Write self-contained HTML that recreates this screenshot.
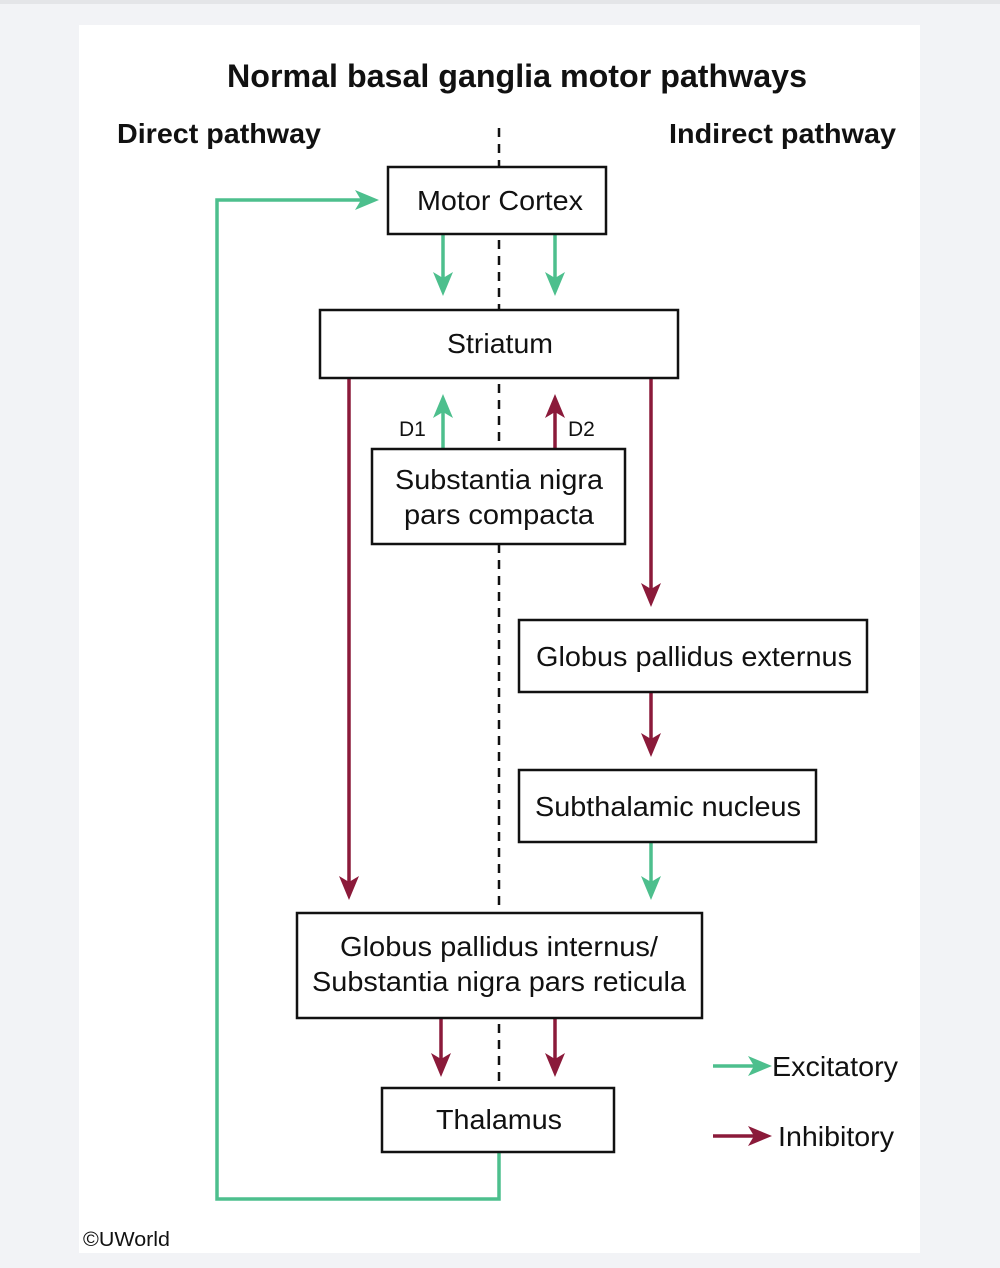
<!DOCTYPE html>
<html><head><meta charset="utf-8"><style>
html,body{margin:0;padding:0;background:#f2f3f6;}
svg{display:block;}
text{font-family:"Liberation Sans",Arial,sans-serif;fill:#111;}
</style></head><body>
<svg width="1000" height="1268" viewBox="0 0 1000 1268" xmlns="http://www.w3.org/2000/svg">
<rect x="0" y="0" width="1000" height="4" fill="#e4e5e8"/>
<rect x="79" y="25" width="841" height="1228" fill="#fff"/>
<text x="517" y="87" font-size="32" font-weight="bold" text-anchor="middle" textLength="580" lengthAdjust="spacingAndGlyphs">Normal basal ganglia motor pathways</text>
<text x="117" y="143" font-size="28" font-weight="bold" textLength="204" lengthAdjust="spacingAndGlyphs">Direct pathway</text>
<text x="669" y="143" font-size="28" font-weight="bold" textLength="227" lengthAdjust="spacingAndGlyphs">Indirect pathway</text>
<line x1="499" y1="128" x2="499" y2="1090" stroke="#111" stroke-width="2.5" stroke-dasharray="9,7"/>
<g fill="none" stroke-width="3.5">
<polyline points="499,1152 499,1199 217,1199 217,200 366,200" stroke="#4dbf8d"/>
<line x1="443" y1="234" x2="443" y2="280" stroke="#4dbf8d"/>
<line x1="555" y1="234" x2="555" y2="280" stroke="#4dbf8d"/>
<line x1="349" y1="378" x2="349" y2="882" stroke="#8b1a3a"/>
<line x1="651" y1="378" x2="651" y2="590" stroke="#8b1a3a"/>
<line x1="443" y1="449" x2="443" y2="410" stroke="#4dbf8d"/>
<line x1="555" y1="449" x2="555" y2="410" stroke="#8b1a3a"/>
<line x1="651" y1="692" x2="651" y2="740" stroke="#8b1a3a"/>
<line x1="651" y1="842" x2="651" y2="884" stroke="#4dbf8d"/>
<line x1="441" y1="1018" x2="441" y2="1060" stroke="#8b1a3a"/>
<line x1="555" y1="1018" x2="555" y2="1060" stroke="#8b1a3a"/>
<line x1="713" y1="1066" x2="755" y2="1066" stroke="#4dbf8d"/>
<line x1="713" y1="1136" x2="755" y2="1136" stroke="#8b1a3a"/>
</g>
<g>
<path d="M355,190 L379,200 L355,210 L361,200Z" fill="#4dbf8d"/>
<path d="M433,272 L443,296 L453,272 L443,278Z" fill="#4dbf8d"/>
<path d="M545,272 L555,296 L565,272 L555,278Z" fill="#4dbf8d"/>
<path d="M339,876 L349,900 L359,876 L349,882Z" fill="#8b1a3a"/>
<path d="M641,583 L651,607 L661,583 L651,589Z" fill="#8b1a3a"/>
<path d="M433,418 L443,394 L453,418 L443,412Z" fill="#4dbf8d"/>
<path d="M545,418 L555,394 L565,418 L555,412Z" fill="#8b1a3a"/>
<path d="M641,733 L651,757 L661,733 L651,739Z" fill="#8b1a3a"/>
<path d="M641,876 L651,900 L661,876 L651,882Z" fill="#4dbf8d"/>
<path d="M431,1053 L441,1077 L451,1053 L441,1059Z" fill="#8b1a3a"/>
<path d="M545,1053 L555,1077 L565,1053 L555,1059Z" fill="#8b1a3a"/>
<path d="M748,1056 L772,1066 L748,1076 L754,1066Z" fill="#4dbf8d"/>
<path d="M748,1126 L772,1136 L748,1146 L754,1136Z" fill="#8b1a3a"/>
</g>
<g fill="#fff" stroke="#111" stroke-width="2.5">
<rect x="388" y="167" width="218" height="67"/>
<rect x="320" y="310" width="358" height="68"/>
<rect x="372" y="449" width="253" height="95"/>
<rect x="519" y="620" width="348" height="72"/>
<rect x="519" y="770" width="297" height="72"/>
<rect x="297" y="913" width="405" height="105"/>
<rect x="382" y="1088" width="232" height="64"/>
</g>
<g font-size="28" text-anchor="middle">
<text x="500" y="210" textLength="166" lengthAdjust="spacingAndGlyphs">Motor Cortex</text>
<text x="500" y="353" textLength="106" lengthAdjust="spacingAndGlyphs">Striatum</text>
<text x="499" y="489" textLength="208" lengthAdjust="spacingAndGlyphs">Substantia nigra</text>
<text x="499" y="524" textLength="190" lengthAdjust="spacingAndGlyphs">pars compacta</text>
<text x="694" y="666" textLength="316" lengthAdjust="spacingAndGlyphs">Globus pallidus externus</text>
<text x="668" y="816" textLength="266" lengthAdjust="spacingAndGlyphs">Subthalamic nucleus</text>
<text x="499" y="956" textLength="318" lengthAdjust="spacingAndGlyphs">Globus pallidus internus/</text>
<text x="499" y="991" textLength="374" lengthAdjust="spacingAndGlyphs">Substantia nigra pars reticula</text>
<text x="499" y="1129" textLength="126" lengthAdjust="spacingAndGlyphs">Thalamus</text>
</g>
<text x="399" y="436" font-size="21">D1</text>
<text x="568" y="436" font-size="21">D2</text>
<text x="772" y="1076" font-size="28" textLength="126" lengthAdjust="spacingAndGlyphs">Excitatory</text>
<text x="778" y="1146" font-size="28" textLength="116" lengthAdjust="spacingAndGlyphs">Inhibitory</text>
<text x="83" y="1246" font-size="20" textLength="87" lengthAdjust="spacingAndGlyphs">©UWorld</text>
</svg>
</body></html>
